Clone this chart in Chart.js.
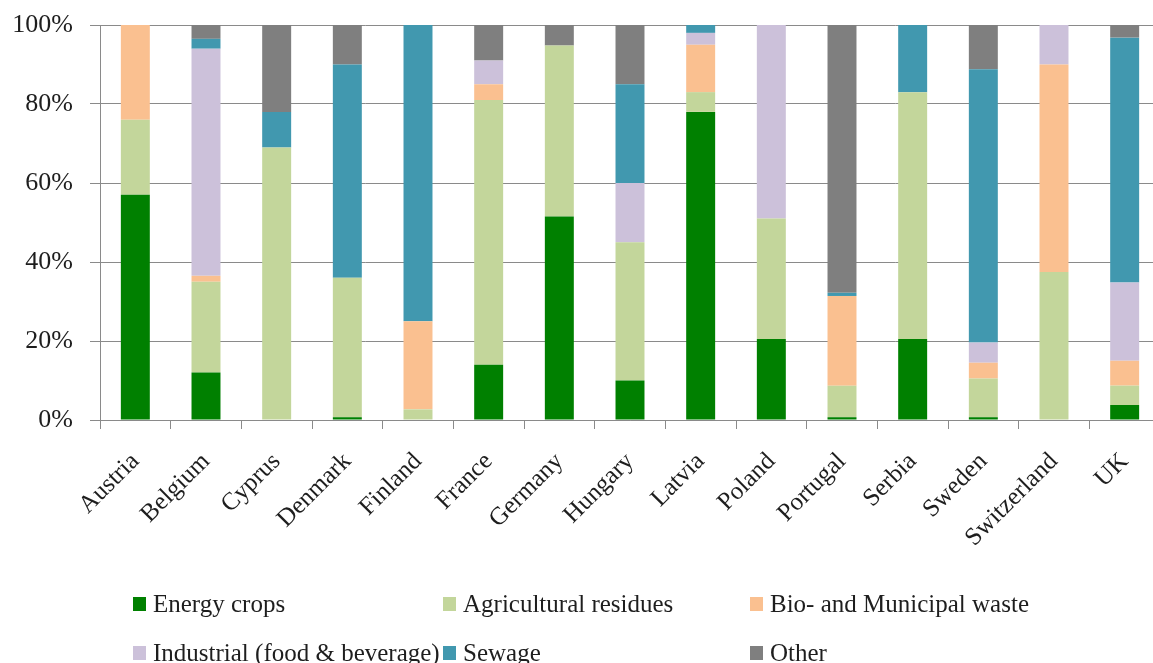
<!DOCTYPE html>
<html>
<head>
<meta charset="utf-8">
<script src="https://cdn.jsdelivr.net/npm/chart.js@4/dist/chart.umd.min.js"></script>
<style>
  html, body { margin: 0; padding: 0; background: #ffffff; overflow: hidden; }
  #wrap { position: relative; width: 1160px; height: 663px; }
</style>
</head>
<body>
<div id="wrap"><canvas id="chart"></canvas></div>
<script>
// Countries along the horizontal axis
const countries = ['Austria', 'Belgium', 'Cyprus', 'Denmark', 'Finland', 'France', 'Germany',
  'Hungary', 'Latvia', 'Poland', 'Portugal', 'Serbia', 'Sweden', 'Switzerland', 'UK'];

// Share of each feedstock (%), one value per country
const energyCrops      = [57, 12, 0, 0.7, 0, 14, 51.5, 10, 78, 20.5, 0.7, 20.5, 0.7, 0, 3.8];
const agriResidues     = [19, 23, 69, 35.3, 2.7, 67, 43.3, 35, 5, 30.5, 8, 62.5, 9.8, 37.5, 4.9];
const bioMunicipal     = [24, 1.5, 0, 0, 22.3, 4, 0, 0, 12, 0, 22.7, 0, 4, 52.5, 6.3];
const industrialFood   = [0, 57.5, 0, 0, 0, 6, 0, 15, 3, 49, 0, 0, 5.1, 10, 19.8];
const sewage           = [0, 2.5, 9, 54, 75, 0, 0, 25, 2, 0, 0.8, 17, 69.2, 0, 62];
const otherSources     = [0, 3.5, 22, 10, 0, 9, 5.2, 15, 0, 0, 67.8, 0, 11.2, 0, 3.2];

// Series names
const seriesNames = ['Energy crops', 'Agricultural residues', 'Bio- and Municipal waste',
  'Industrial (food & beverage)', 'Sewage', 'Other'];

// Y axis tick values
const yTicks = [0, 20, 40, 60, 80, 100];

const seriesData = [energyCrops, agriResidues, bioMunicipal, industrialFood, sewage, otherSources];
const seriesColors = ['#008000', '#C3D69B', '#FAC090', '#CCC1DA', '#4198AF', '#7F7F7F'];

const serif = "'Liberation Serif', 'Times New Roman', serif";
const gridColor = '#8a8a8a';
const textColor = '#1e1e1e';

// Two-row legend laid out in three fixed columns under the axis labels
const gridLegend = {
  id: 'gridLegend',
  afterDraw(chart) {
    const ctx = chart.ctx;
    const cols = [133, 443, 750];
    const rows = [604, 653];
    ctx.save();
    ctx.font = '25px ' + serif;
    ctx.textBaseline = 'middle';
    ctx.textAlign = 'left';
    chart.data.datasets.forEach((ds, i) => {
      const x = cols[i % 3];
      const y = rows[Math.floor(i / 3)];
      ctx.fillStyle = ds.backgroundColor;
      ctx.fillRect(x, y - 7, 13, 14);
      ctx.fillStyle = textColor;
      ctx.fillText(ds.label, x + 20, y + 1);
    });
    ctx.restore();
  }
};

new Chart(document.getElementById('chart'), {
  type: 'bar',
  data: {
    labels: countries,
    datasets: seriesNames.map((name, i) => ({
      label: name,
      data: seriesData[i],
      backgroundColor: seriesColors[i],
      borderWidth: 0,
      barPercentage: 0.41,
      categoryPercentage: 1.0
    }))
  },
  options: {
    responsive: true,
    maintainAspectRatio: false,
    animation: false,
    layout: { autoPadding: false, padding: { top: 25, left: 0, right: 0, bottom: 0 } },
    plugins: {
      legend: { display: false },
      tooltip: { enabled: false },
      title: { display: false }
    },
    scales: {
      x: {
        stacked: true,
        grid: {
          display: true,
          offset: true,
          drawOnChartArea: false,
          drawTicks: true,
          tickLength: 9,
          color: gridColor,
          lineWidth: 1
        },
        border: { display: true, color: gridColor, width: 1 },
        ticks: {
          color: textColor,
          font: { family: serif, size: 25 },
          minRotation: 45,
          maxRotation: 45,
          autoSkip: false,
          padding: 18
        },
        afterFit(scale) {
          scale.height = 243;
          scale.paddingLeft = 0;
          scale.paddingRight = 0;
        }
      },
      y: {
        stacked: true,
        min: 0,
        max: 100,
        afterBuildTicks(scale) { scale.ticks = yTicks.map(v => ({ value: v })); },
        grid: {
          color: gridColor,
          lineWidth: 1,
          tickLength: 10
        },
        border: { display: true, color: gridColor, width: 1 },
        ticks: {
          color: textColor,
          font: { family: serif, size: 26 },
          padding: 17,
          callback: v => v + '%'
        },
        afterFit(scale) {
          scale.width = 100;
          scale.paddingTop = 0;
          scale.paddingBottom = 0;
        }
      }
    }
  },
  plugins: [gridLegend]
});
</script>
</body>
</html>
